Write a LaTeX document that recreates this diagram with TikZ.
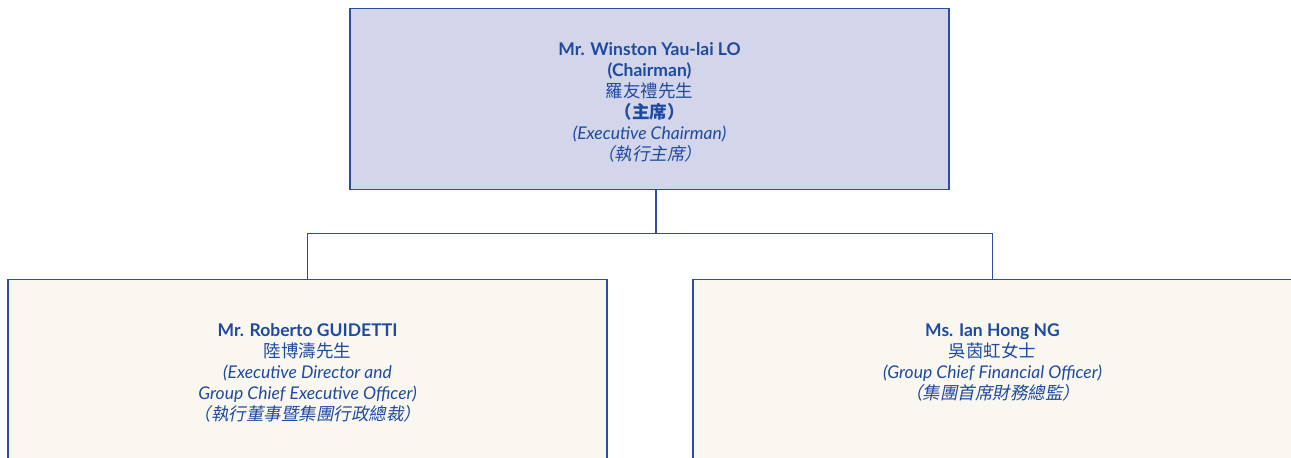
\documentclass[tikz,border=0pt]{standalone}
\usepackage{fontspec}
\setmainfont{Lato}
\newfontfamily\cjk[Scale=1.0]{Noto Sans CJK TC}
\newfontfamily\cjkit[Scale=1.0,FakeSlant=0.2]{Noto Sans CJK TC}
\newcommand{\orgfont}{\fontsize{17.5}{21}\selectfont\lineskiplimit=-100pt\relax}
\definecolor{orgtext}{HTML}{1E4AA0}
\definecolor{orgline}{HTML}{2B4EA2}
\definecolor{chairfill}{HTML}{D3D5EB}
\definecolor{stafffill}{HTML}{FAF7F0}
\tikzstyle{chairbox} = [draw=orgline,fill=chairfill,line width=1.2pt,
    minimum width=599pt,minimum height=181pt,align=center,text=orgtext,
    font=\orgfont
]
\tikzstyle{staffbox} = [draw=orgline,fill=stafffill,line width=1.2pt,
    minimum width=599pt,minimum height=186pt,align=center,text=orgtext,
    font=\orgfont
]
\tikzstyle{link} = [draw=orgline,line width=1.2pt]
\begin{document}
\begin{tikzpicture}[x=1pt,y=-1pt]
	\useasboundingbox (0,0) rectangle (1291,458);

	\node(chair) at (649.5,8) [chairbox, anchor = north, text height=125pt] {\textbf{Mr. Winston Yau-lai LO}\\\textbf{(Chairman)}\\{\cjk 羅友禮先生}\\{\cjk\bfseries （主席）}\\\textit{(Executive Chairman)}\\{\cjkit （執行主席）}};

	\node(ceo) at (307.5,279) [staffbox, anchor = north] {\textbf{Mr. Roberto GUIDETTI}\\{\cjk 陸博濤先生}\\\textit{(Executive Director and}\\\textit{Group Chief Executive Officer)}\\{\cjkit （執行董事暨集團行政總裁）}};

	\node(cfo) at (992.5,279) [staffbox, anchor = north, text depth=23pt] {\textbf{Ms. Ian Hong NG}\\{\cjk 吳茵虹女士}\\\textit{(Group Chief Financial Officer)}\\{\cjkit （集團首席財務總監）}};

	\draw[link] ([xshift=6.5pt]chair.south) -- ++(0,43) coordinate (split) -| (ceo.north);
	\draw[link] (split) -| (cfo.north);
\end{tikzpicture}
\end{document}
